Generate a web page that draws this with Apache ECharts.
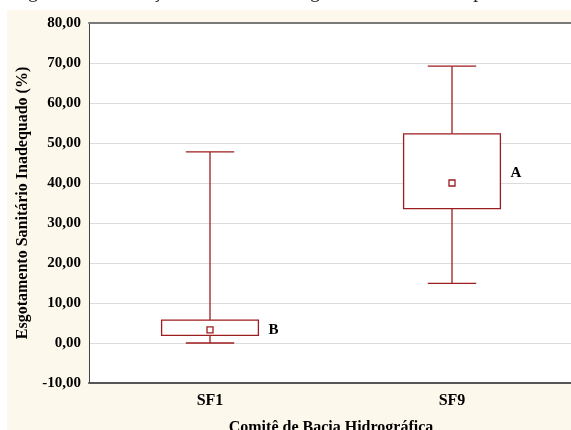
<!DOCTYPE html>
<html>
<head>
<meta charset="utf-8">
<script src="https://cdn.jsdelivr.net/npm/echarts@6/dist/echarts.min.js"></script>
<style>
  html, body { margin: 0; padding: 0; background: #fff; }
  #chart { width: 571px; height: 430px; }
</style>
</head>
<body>
<div id="chart"></div>
<script>
// dados
var categories = ['SF1', 'SF9'];
var whiskerLow = [0.0, 14.9];
var boxLow = [1.9, 33.6];
var centerVal = [3.3, 40.0];
var boxHigh = [5.7, 52.3];
var whiskerHigh = [47.8, 69.2];
var letters = ['B', 'A'];
var letterY = [3.3, 42.5];
var yTicks = { min: -10, max: 80, interval: 10 };

var boxColor = '#9c1c20';
var serif = '"Liberation Serif", "Times New Roman", serif';

var boxData = [];
for (var i = 0; i < categories.length; i++) {
  boxData.push([i, whiskerLow[i], boxLow[i], centerVal[i], boxHigh[i], whiskerHigh[i], letterY[i]]);
}

var fmt = function (v) {
  return v.toFixed(2).replace('.', ',');
};

var renderBox = function (params, api) {
  var idx = api.value(0);
  var band = api.size([1, 0])[0];
  var boxW = band * 0.4;
  var capW = band * 0.2;
  var pWl = api.coord([idx, api.value(1)]);
  var pBl = api.coord([idx, api.value(2)]);
  var pC = api.coord([idx, api.value(3)]);
  var pBh = api.coord([idx, api.value(4)]);
  var pWh = api.coord([idx, api.value(5)]);
  var pL = api.coord([idx, api.value(6)]);
  var x = pC[0];
  var st = { stroke: boxColor, lineWidth: 1.3, fill: null };
  return {
    type: 'group',
    children: [
      { type: 'line', shape: { x1: x, y1: pBh[1], x2: x, y2: pWh[1] }, style: st },
      { type: 'line', shape: { x1: x, y1: pBl[1], x2: x, y2: pWl[1] }, style: st },
      { type: 'line', shape: { x1: x - capW / 2, y1: pWh[1], x2: x + capW / 2, y2: pWh[1] }, style: st },
      { type: 'line', shape: { x1: x - capW / 2, y1: pWl[1], x2: x + capW / 2, y2: pWl[1] }, style: st },
      { type: 'rect', shape: { x: x - boxW / 2, y: pBh[1], width: boxW, height: pBl[1] - pBh[1] },
        style: { stroke: boxColor, lineWidth: 1.3, fill: '#fff' } },
      { type: 'rect', shape: { x: pC[0] - 3, y: pC[1] - 3, width: 6, height: 6 },
        style: { stroke: boxColor, lineWidth: 1.3, fill: '#fff' } },
      { type: 'text', x: x + boxW / 2 + 10, y: pL[1],
        style: { text: letters[params.dataIndex], fill: '#000', font: 'bold 15px ' + serif,
                 verticalAlign: 'middle', align: 'left' } }
    ]
  };
};

var chart = echarts.init(document.getElementById('chart'));
chart.setOption({
  animation: false,
  backgroundColor: '#fdf8ec',
  graphic: [
    { type: 'rect', shape: { x: 0, y: 0, width: 571, height: 10 }, style: { fill: '#fff' }, z: -1 },
    { type: 'rect', shape: { x: 0, y: 0, width: 7, height: 430 }, style: { fill: '#fff' }, z: -1 },
    { type: 'text', x: 4, y: -18,
      style: { text: 'de gráfica da variação dos dados de esgotamento sanitário por comitê de bacia',
               fill: '#222', font: '20px ' + serif } }
  ],
  grid: {
    left: 89, top: 23, width: 484, height: 360,
    outerBoundsMode: 'none',
    containLabel: false,
    show: true, backgroundColor: '#fff', borderWidth: 0
  },
  xAxis: [
    {
      type: 'category',
      data: categories,
      position: 'bottom',
      name: 'Comitê de Bacia Hidrográfica',
      nameLocation: 'middle',
      nameGap: 37,
      nameTextStyle: { fontFamily: serif, fontWeight: 'bold', fontSize: 16, color: '#000' },
      axisLine: { onZero: false, lineStyle: { color: '#555', width: 2 } },
      axisTick: { alignWithLabel: true, inside: true, length: 3, lineStyle: { color: '#222' } },
      axisLabel: { fontFamily: serif, fontWeight: 'bold', fontSize: 16, color: '#000', margin: 10 },
      splitLine: { show: false }
    },
    {
      type: 'category',
      data: categories,
      position: 'top',
      axisLine: { onZero: false, lineStyle: { color: '#7a7a7a', width: 2 } },
      axisTick: { alignWithLabel: true, inside: true, length: 3, lineStyle: { color: '#222' } },
      axisLabel: { show: false },
      splitLine: { show: false }
    }
  ],
  yAxis: {
    type: 'value',
    min: yTicks.min,
    max: yTicks.max,
    interval: yTicks.interval,
    name: 'Esgotamento Sanitário Inadequado (%)',
    nameLocation: 'middle',
    nameGap: 57,
    nameTextStyle: { fontFamily: serif, fontWeight: 'bold', fontSize: 16, color: '#000' },
    axisLine: { show: true, lineStyle: { color: '#444', width: 1 } },
    axisTick: { show: false },
    axisLabel: { fontFamily: serif, fontWeight: 'bold', fontSize: 15, color: '#000', margin: 8,
                 formatter: fmt },
    splitLine: { show: true, lineStyle: { color: '#dcdcdc', width: 1 } }
  },
  series: [{
    type: 'custom',
    renderItem: renderBox,
    data: boxData,
    encode: { x: 0, y: [1, 2, 3, 4, 5] },
    clip: false
  }]
});
</script>
</body>
</html>
